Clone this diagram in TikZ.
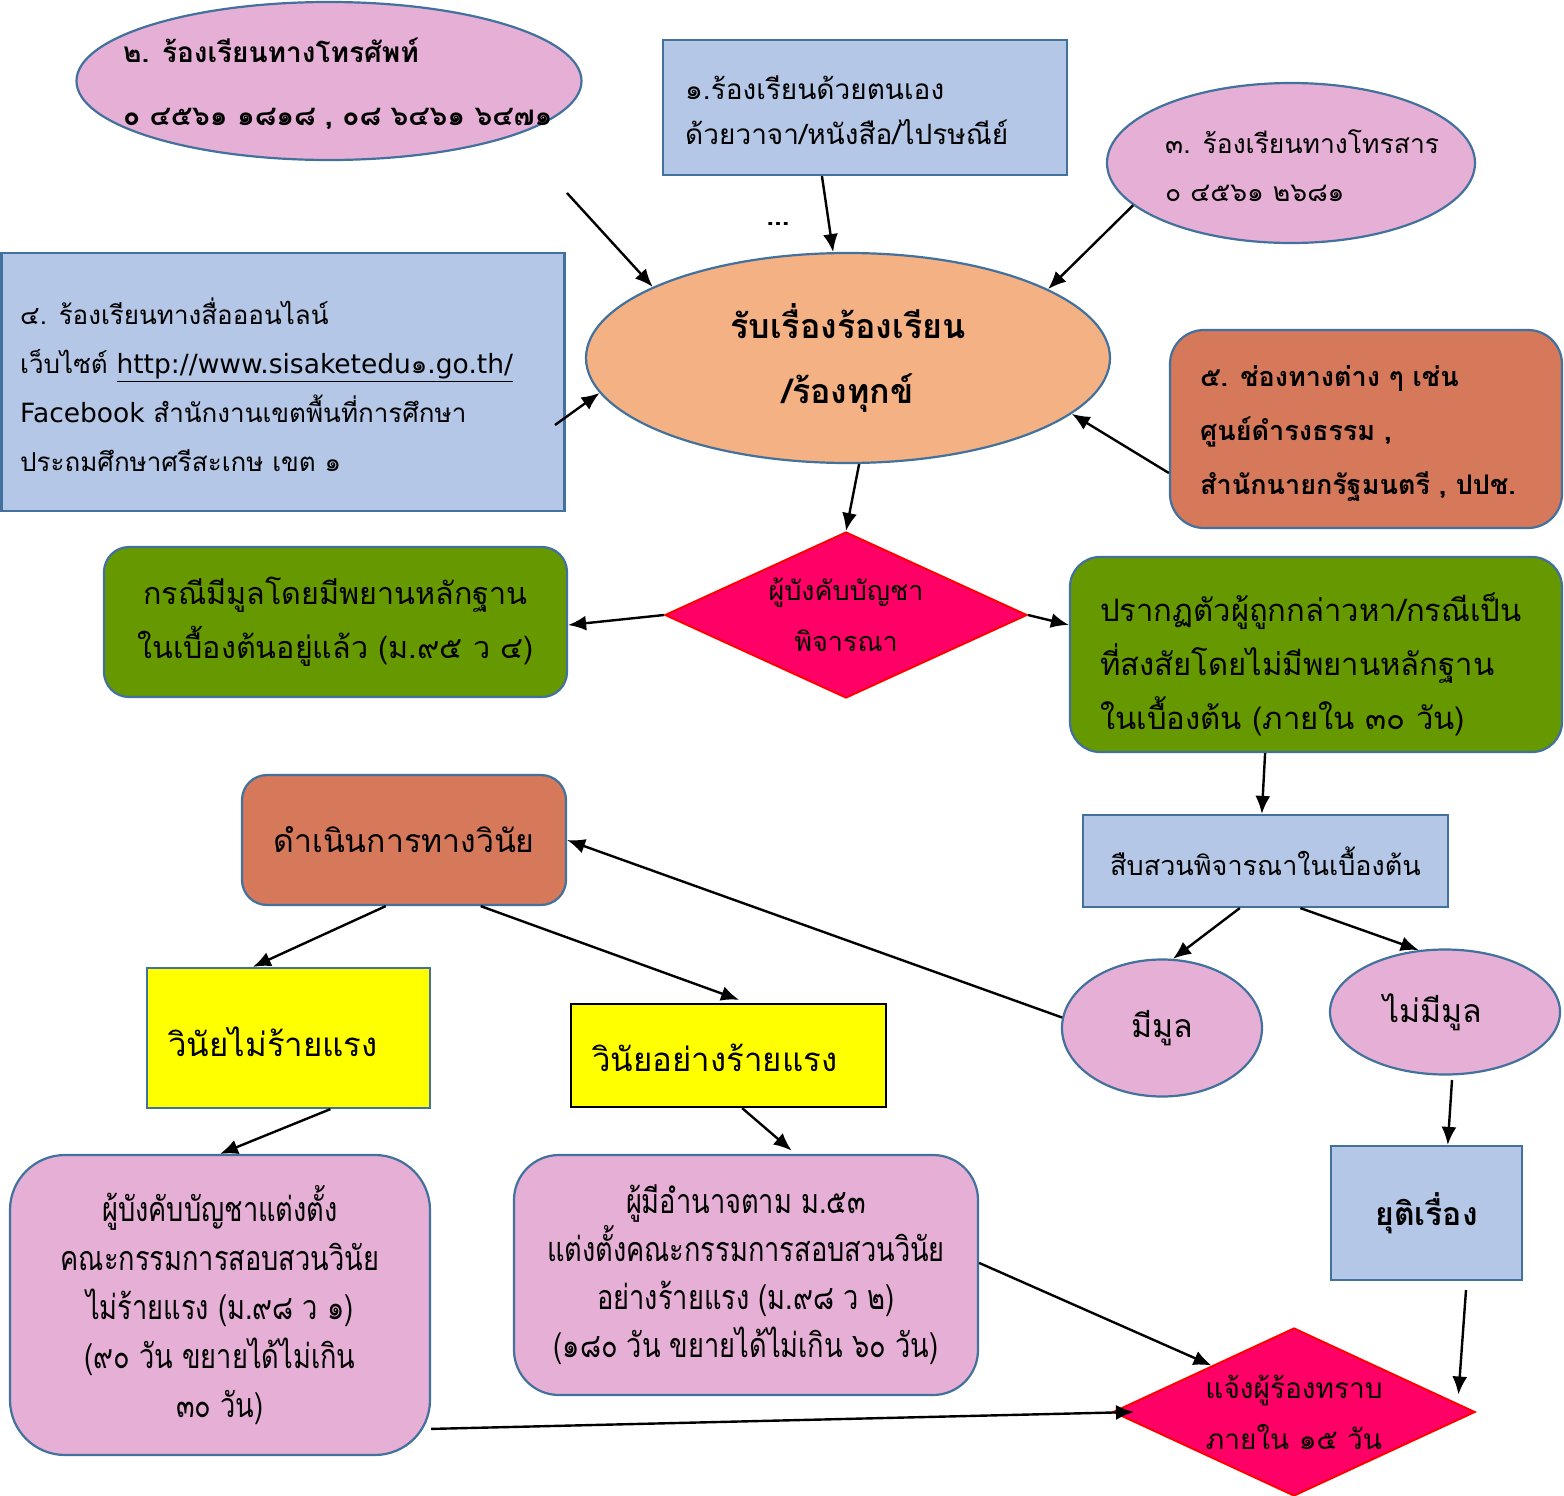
\documentclass[tikz,border=0pt]{standalone}
\usepackage{fontspec}
\setmainfont[Script=Thai]{Loma}
\newfontfamily\condfont[Script=Thai,FakeStretch=0.8]{Loma}
\newfontfamily\latfont{DejaVu Sans}
\usetikzlibrary{shapes.geometric,arrows.meta,calc}
\definecolor{pinkf}{HTML}{E6AFD6}
\definecolor{bluef}{HTML}{B4C7E7}
\definecolor{bordc}{HTML}{41719C}
\definecolor{peachf}{HTML}{F4B183}
\definecolor{brownf}{HTML}{D6785A}
\definecolor{greenf}{HTML}{669900}
\definecolor{magf}{HTML}{FF0066}
\definecolor{yellowf}{HTML}{FFFF00}
\newcommand{\latt}[1]{{\latfont\fontsize{26.5}{49}\selectfont #1}}
\begin{document}
\begin{tikzpicture}[x=1pt,y=-1pt,
  bdr/.style={draw=bordc, line width=2.2pt},
  fs/.style 2 args={font=\fontsize{#1}{#2}\selectfont},
  fsb/.style 2 args={font=\fontsize{#1}{#2}\selectfont\bfseries},
  fsc/.style 2 args={font=\condfont\fontsize{#1}{#2}\selectfont},
  lt/.style={anchor=west, align=left, inner sep=0},
  ell/.style={ellipse, bdr, inner sep=0},
  box/.style={rectangle, bdr, inner sep=0},
  rbox/.style={rectangle, rounded corners=28pt, bdr, inner sep=0},
  dia/.style={diamond, draw=red, line width=2pt, fill=magf, inner sep=0, aspect=2.18},
  arr/.style={-{Latex[length=18pt,width=15pt]}, line width=2.4pt},
]
\useasboundingbox (0,0) rectangle (1564,1496);

% ---- top row
\node[ell, fill=pinkf, minimum width=505pt, minimum height=158pt] (e2) at (329,81) {};
\node[lt, fsb={28}{63}] (e2t) at (123,84) {๒. ร้องเรียนทางโทรศัพท์\\๐ ๔๕๖๑ ๑๘๑๘ , ๐๘ ๖๔๖๑ ๖๔๗๑};

\node[box, fill=bluef, minimum width=404pt, minimum height=135pt] (b1) at (865,107.5) {};
\node[lt, fs={28}{45}] (b1t) at (685,110) {๑.ร้องเรียนด้วยตนเอง\\ด้วยวาจา/หนังสือ/ไปรษณีย์};
\node[fsb={28}{30}] (dots) at (778,224) {...};

\node[ell, fill=pinkf, minimum width=368pt, minimum height=160pt] (e3) at (1291,163) {};
\node[lt, fs={26.5}{48}] (e3t) at (1165,166) {๓. ร้องเรียนทางโทรสาร\\๐ ๔๕๖๑ ๒๖๘๑};

\node[box, fill=bluef, minimum width=563pt, minimum height=258pt] (b4) at (283,382) {};
\node[lt, fs={26}{49}] (b4t) at (20,385) {๔. ร้องเรียนทางสื่อออนไลน์\\เว็บไซต์ \underline{\latt{http://www.sisaketedu}๑\latt{.go.th/}}\\\latt{Facebook} สำนักงานเขตพื้นที่การศึกษา\\ประถมศึกษาศรีสะเกษ เขต ๑};

\node[rbox, rounded corners=34pt, fill=brownf, minimum width=392pt, minimum height=198pt] (b5) at (1366,429) {};
\node[lt, fsb={27}{54}] (b5t) at (1200,434) {๕. ช่องทางต่าง ๆ เช่น\\ศูนย์ดำรงธรรม ,\\สำนักนายกรัฐมนตรี , ปปช.};

\node[ell, fill=peachf, minimum width=524pt, minimum height=210pt, align=center, fsb={34}{65}] (ec) at (848,358) {รับเรื่องร้องเรียน\\/ร้องทุกข์};

% ---- middle
\node[dia, minimum width=362pt, minimum height=166pt, align=center, fs={27}{51}] (d1) at (846,615) {ผู้บังคับบัญชา\\พิจารณา};

\node[rbox, rounded corners=25pt, fill=greenf, minimum width=463pt, minimum height=150pt, align=center, fs={30.5}{54}] (g1) at (335.5,622) {กรณีมีมูลโดยมีพยานหลักฐาน\\ในเบื้องต้นอยู่แล้ว (ม.๙๕ ว ๔)};

\node[rbox, rounded corners=30pt, fill=greenf, minimum width=492pt, minimum height=195pt] (g2) at (1316,654.5) {};
\node[lt, fs={31}{54}] (g2t) at (1100,664) {ปรากฏตัวผู้ถูกกล่าวหา/กรณีเป็น\\ที่สงสัยโดยไม่มีพยานหลักฐาน\\ในเบื้องต้น (ภายใน ๓๐ วัน)};

\node[box, fill=bluef, minimum width=365pt, minimum height=92pt, fs={27}{30}] (s) at (1265.5,861) {สืบสวนพิจารณาในเบื้องต้น};

\node[ell, fill=pinkf, minimum width=200pt, minimum height=137pt, fs={32}{36}] (m1) at (1162,1028) {มีมูล};
\node[ell, fill=pinkf, minimum width=230pt, minimum height=125pt] (m2) at (1445,1012) {};
\node[fs={32}{36}] (m2t) at (1433,1012) {ไม่มีมูล};

\node[box, fill=bluef, minimum width=191pt, minimum height=134pt, fsb={32}{36}] (yuti) at (1426.5,1213) {ยุติเรื่อง};

\node[rbox, rounded corners=25pt, fill=brownf, minimum width=324pt, minimum height=130pt, fs={32}{36}] (dv) at (404,840) {ดำเนินการทางวินัย};

\node[box, fill=yellowf, minimum width=283pt, minimum height=140pt] (y1) at (288.5,1038) {};
\node[lt, fs={33}{36}] (y1t) at (168,1042) {วินัยไม่ร้ายแรง};
\node[box, draw=black, fill=yellowf, minimum width=315pt, minimum height=103pt] (y2) at (728.5,1055.5) {};
\node[lt, fs={33}{36}] (y2t) at (592,1058) {วินัยอย่างร้ายแรง};

% ---- bottom
\node[rbox, rounded corners=55pt, fill=pinkf, minimum width=420pt, minimum height=300pt, align=center, fsc={34}{49}] (p1) at (220,1305) {ผู้บังคับบัญชาแต่งตั้ง\\คณะกรรมการสอบสวนวินัย\\ไม่ร้ายแรง (ม.๙๘ ว ๑)\\(๙๐ วัน ขยายได้ไม่เกิน\\๓๐ วัน)};

\node[rbox, rounded corners=45pt, fill=pinkf, minimum width=464pt, minimum height=240pt, align=center, fsc={34}{48}] (p2) at (746,1275) {ผู้มีอำนาจตาม ม.๕๓\\แต่งตั้งคณะกรรมการสอบสวนวินัย\\อย่างร้ายแรง (ม.๙๘ ว ๒)\\(๑๘๐ วัน ขยายได้ไม่เกิน ๖๐ วัน)};

\node[dia, minimum width=362pt, minimum height=168pt, align=center, fs={28}{51}] (d2) at (1294,1412) {แจ้งผู้ร้องทราบ\\ภายใน ๑๕ วัน};

% ---- connectors
\coordinate (e2out) at (567,193);
\draw[arr] (e2out) -- (ec.160);
\draw[arr] ($(b1.south west)!0.394!(b1.south east)$) -- (ec.98);
\draw[arr] (e3.195) -- (ec.19.5);
\coordinate (b4out) at (555,425);
\draw[arr] (b4out) -- (ec.188);
\draw[arr] ($(b5.north west)!0.72!(b5.south west)$) -- (ec.-14);
\draw[arr] (ec.-84.5) -- (d1.north);
\draw[arr] (d1.west) -- ($(g1.north east)!0.52!(g1.south east)$);
\draw[arr] (d1.east) -- ($(g2.north west)!0.35!(g2.south west)$);
\draw[arr] ($(g2.south west)!0.397!(g2.south east)$) -- ($(s.north west)!0.49!(s.north east)$);
\draw[arr] ($(s.south west)!0.43!(s.south east)$) -- (m1.81);
\draw[arr] ($(s.south west)!0.595!(s.south east)$) -- (m2.113.5);
\draw[arr] (m1.174) -- (dv.east);
\draw[arr] ($(dv.south west)!0.444!(dv.south east)$) -- ($(y1.north west)!0.375!(y1.north east)$);
\draw[arr, shorten >=9pt] ($(dv.south west)!0.735!(dv.south east)$) -- ($(y2.north west)!0.56!(y2.north east)$);
\draw[arr] ($(y1.south west)!0.647!(y1.south east)$) -- (p1.north);
\draw[arr, shorten >=5pt] ($(y2.south west)!0.543!(y2.south east)$) -- ($(p2.north west)!0.606!(p2.north east)$);
\coordinate (m2out) at (1452,1080);
\draw[arr] (m2out) -- ($(yuti.north west)!0.61!(yuti.north east)$);
\coordinate (yutiout) at (1466,1290);
\draw[arr, shorten >=9pt] (yutiout) -- ($(d2.north)!0.9!(d2.east)$);
\draw[arr] ($(p2.north east)!0.45!(p2.south east)$) -- ($(d2.west)!0.547!(d2.north)$);
\draw[arr] ($(p1.north east)!0.91!(p1.south east)$) -- ($(d2.west)+(22,0)$);
\end{tikzpicture}
\end{document}
